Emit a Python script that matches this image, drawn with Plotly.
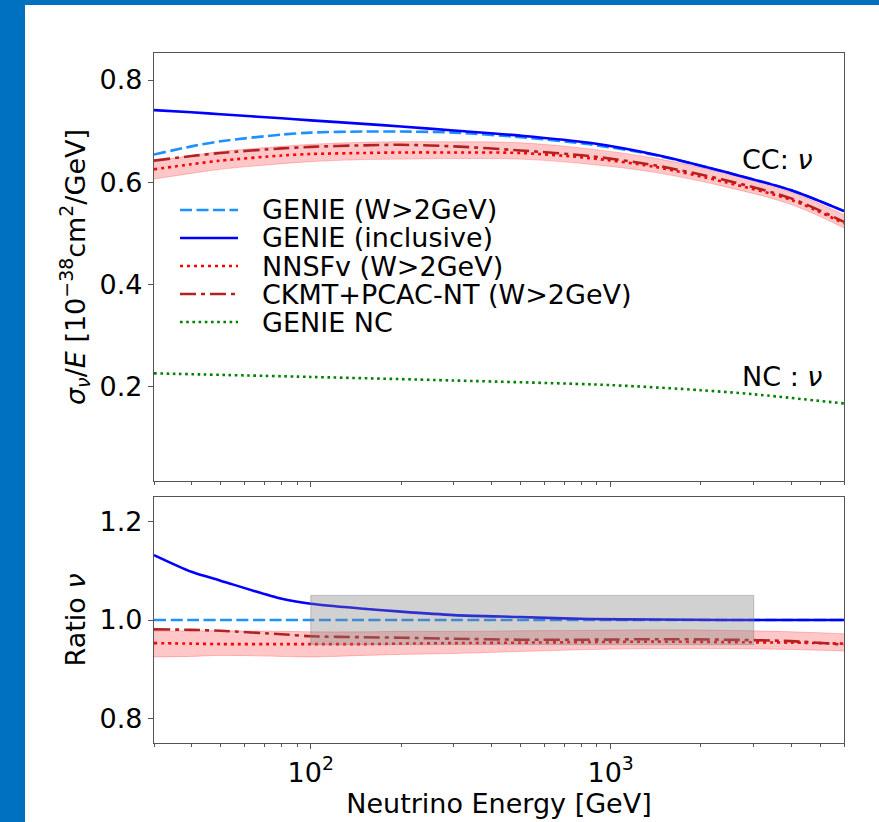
import plotly.graph_objects as go

# ---------------- data ----------------
energy = [30, 40, 50, 80, 100, 150, 200, 300, 500, 850, 1400, 2400, 4000, 6000]

genie_w2 = [0.654, 0.670, 0.680, 0.693, 0.697, 0.699, 0.699, 0.697, 0.688, 0.674, 0.653, 0.620, 0.584, 0.543]
genie_incl = [0.741, 0.737, 0.733, 0.725, 0.721, 0.714, 0.709, 0.701, 0.691, 0.677, 0.654, 0.620, 0.584, 0.543]
nnsf = [0.625, 0.635, 0.642, 0.652, 0.655, 0.657, 0.658, 0.658, 0.657, 0.647, 0.630, 0.600, 0.565, 0.519]
ckmt = [0.642, 0.651, 0.657, 0.666, 0.669, 0.672, 0.673, 0.670, 0.662, 0.651, 0.633, 0.604, 0.568, 0.522]
nnsf_lo = [0.606, 0.617, 0.625, 0.636, 0.640, 0.644, 0.645, 0.646, 0.645, 0.635, 0.619, 0.591, 0.556, 0.510]
nnsf_hi = [0.641, 0.652, 0.660, 0.670, 0.674, 0.678, 0.679, 0.679, 0.677, 0.665, 0.647, 0.617, 0.580, 0.536]

nc_energy = [30, 100, 300, 1000, 2000, 3000, 6000]
genie_nc = [0.225, 0.218, 0.211, 0.202, 0.192, 0.184, 0.166]

ratio_incl = [1.132, 1.098, 1.080, 1.043, 1.033, 1.023, 1.017, 1.010, 1.006, 1.002, 1.001, 1.000, 1.000, 1.000]
ratio_w2 = [1.000, 1.000, 1.000, 1.000, 1.000, 1.000, 1.000, 1.000, 1.000, 1.000, 1.000, 1.000, 1.000, 1.000]
ratio_ckmt = [0.981, 0.980, 0.978, 0.971, 0.967, 0.965, 0.964, 0.962, 0.960, 0.960, 0.961, 0.960, 0.957, 0.950]
ratio_nnsf = [0.953, 0.952, 0.951, 0.951, 0.951, 0.951, 0.952, 0.953, 0.954, 0.955, 0.956, 0.955, 0.954, 0.952]
ratio_lo = [0.925, 0.926, 0.928, 0.926, 0.925, 0.928, 0.930, 0.932, 0.936, 0.940, 0.942, 0.942, 0.940, 0.937]
ratio_hi = [0.977, 0.978, 0.978, 0.977, 0.976, 0.976, 0.977, 0.977, 0.978, 0.979, 0.980, 0.979, 0.976, 0.972]

box_energy = [100, 3000]
box_ratio = [0.95, 1.05]

labels = ["GENIE (W>2GeV)", "GENIE (inclusive)", "NNSFv (W>2GeV)", "CKMT+PCAC-NT (W>2GeV)", "GENIE NC"]

# ---------------- styles ----------------
FONT = "DejaVu Sans"
FS = 27
LW = 2.6
C_W2, C_INCL, C_NNSF, C_CKMT, C_NC = "#1E90FF", "#0000FF", "#FF0000", "#B22222", "#008000"
D_DASH, D_DOT, D_DASHDOT, D_NCDOT = "12px,4.5px", "3px,4px", "16px,5px,4px,5px", "2.6px,3.6px"
BAND_FILL = "rgba(255,0,0,0.22)"
BAND_EDGE = "rgba(255,0,0,0.22)"
AXC = "#555555"

fig = go.Figure()


def band(x, lo, hi, xa, ya):
    fig.add_trace(go.Scatter(x=x, y=lo, mode="lines", line=dict(color=BAND_EDGE, width=1, shape="spline"),
                             xaxis=xa, yaxis=ya, showlegend=False, hoverinfo="skip"))
    fig.add_trace(go.Scatter(x=x, y=hi, mode="lines", line=dict(color=BAND_EDGE, width=1, shape="spline"),
                             fill="tonexty", fillcolor=BAND_FILL,
                             xaxis=xa, yaxis=ya, showlegend=False, hoverinfo="skip"))


def line(x, y, color, dash, xa, ya, width=LW):
    fig.add_trace(go.Scatter(x=x, y=y, mode="lines",
                             line=dict(color=color, width=width, dash=dash, shape="spline", smoothing=0.8),
                             xaxis=xa, yaxis=ya, showlegend=False))


# top panel
band(energy, nnsf_lo, nnsf_hi, "x", "y")
line(energy, genie_w2, C_W2, D_DASH, "x", "y")
line(energy, genie_incl, C_INCL, "solid", "x", "y")
line(energy, nnsf, C_NNSF, D_DOT, "x", "y")
line(energy, ckmt, C_CKMT, D_DASHDOT, "x", "y")
line(nc_energy, genie_nc, C_NC, D_NCDOT, "x", "y")

# bottom panel
band(energy, ratio_lo, ratio_hi, "x2", "y2")
line(energy, ratio_w2, C_W2, D_DASH, "x2", "y2")
line(energy, ratio_incl, C_INCL, "solid", "x2", "y2")
line(energy, ratio_nnsf, C_NNSF, D_DOT, "x2", "y2")
line(energy, ratio_ckmt, C_CKMT, D_DASHDOT, "x2", "y2")

# gray box (drawn above the curves)
fig.add_trace(go.Scatter(
    x=[box_energy[0], box_energy[1], box_energy[1], box_energy[0], box_energy[0]],
    y=[box_ratio[0], box_ratio[0], box_ratio[1], box_ratio[1], box_ratio[0]],
    mode="lines", fill="toself", fillcolor="rgba(128,128,128,0.36)",
    line=dict(color="rgba(128,128,128,0.45)", width=1),
    xaxis="x2", yaxis="y2", showlegend=False, hoverinfo="skip"))

# ---------------- geometry (pixels -> paper) ----------------
W, H = 879, 822
ML, MR, MT, MB = 154, 35, 53, 79
PW, PH = W - ML - MR, H - MT - MB


def px(x):
    return (x - ML) / PW


def py(y):
    return (H - MB - y) / PH


top_dom = [py(481), 1.0]
bot_dom = [0.0, py(497)]

minor_vals = [k * 10 ** d for d in (1, 2, 3) for k in range(2, 10)]
minor_vals = [v for v in minor_vals if 30 <= v <= 6000 and v not in (100, 1000)]

xcommon = dict(type="log", range=[1.47712, 3.77815], showgrid=False, zeroline=False,
               showline=True, mirror=True, linecolor=AXC, linewidth=1.3,
               ticks="outside", ticklen=5, tickwidth=1.2, tickcolor=AXC,
               tickvals=[100, 1000], ticktext=["10<sup>2</sup>", "10<sup>3</sup>"],
               minor=dict(ticks="outside", ticklen=3, tickwidth=1, tickcolor=AXC, tickvals=minor_vals),
               tickfont=dict(family=FONT, size=FS, color="black"))
ycommon = dict(showgrid=False, zeroline=False, showline=True, mirror=True, linecolor=AXC, linewidth=1.3,
               ticks="outside", ticklen=5, tickwidth=1.2, tickcolor=AXC,
               tickfont=dict(family=FONT, size=FS, color="black"))

fig.update_layout(
    width=W, height=H,
    margin=dict(l=ML, r=MR, t=MT, b=MB),
    paper_bgcolor="white", plot_bgcolor="white",
    font=dict(family=FONT, size=FS, color="black"),
    showlegend=False,
    xaxis=dict(**xcommon, domain=[0, 1], anchor="y", showticklabels=False),
    yaxis=dict(**ycommon, domain=top_dom, anchor="x", range=[0.014, 0.853],
               tickvals=[0.2, 0.4, 0.6, 0.8], ticktext=["0.2", "0.4", "0.6", "0.8"],
               title=dict(text="<i>σ</i><sub><i>ν</i></sub>/<i>E</i> [10<sup>−38</sup>cm<sup>2</sup>/GeV]",
                          font=dict(family=FONT, size=FS), standoff=6)),
    xaxis2=dict(**xcommon, domain=[0, 1], anchor="y2",
                title=dict(text="Neutrino Energy [GeV]", font=dict(family=FONT, size=FS), standoff=4)),
    yaxis2=dict(**ycommon, domain=bot_dom, anchor="x2", range=[0.75, 1.25],
                tickvals=[0.8, 1.0, 1.2], ticktext=["0.8", "1.0", "1.2"],
                title=dict(text="Ratio <i>ν</i>", font=dict(family=FONT, size=FS), standoff=6)),
)

# blue frame strips of the slide
BLUE = "#0070C0"
fig.add_shape(type="rect", xref="paper", yref="paper", x0=px(0), x1=px(25), y0=py(H), y1=py(0),
              fillcolor=BLUE, line=dict(width=0), layer="below")
fig.add_shape(type="rect", xref="paper", yref="paper", x0=px(0), x1=px(W), y0=py(5), y1=py(0),
              fillcolor=BLUE, line=dict(width=0), layer="below")

# manual legend
leg_styles = [(C_W2, D_DASH), (C_INCL, "solid"), (C_NNSF, D_DOT), (C_CKMT, D_DASHDOT), (C_NC, D_NCDOT)]
row_y = [210, 238, 266, 294, 322]
for (col, dsh), lab, ry in zip(leg_styles, labels, row_y):
    fig.add_shape(type="line", xref="paper", yref="paper", x0=px(180), x1=px(238), y0=py(ry), y1=py(ry),
                  line=dict(color=col, width=LW, dash=dsh))
    fig.add_annotation(xref="paper", yref="paper", x=px(260), y=py(ry), text=lab, showarrow=False,
                       xanchor="left", yanchor="middle", font=dict(family=FONT, size=FS, color="black"))

fig.add_annotation(xref="paper", yref="paper", x=px(740), y=py(160), text="CC: <i>ν</i>", showarrow=False,
                   xanchor="left", yanchor="middle", font=dict(family=FONT, size=FS, color="black"))
fig.add_annotation(xref="paper", yref="paper", x=px(740), y=py(377), text="NC : <i>ν</i>", showarrow=False,
                   xanchor="left", yanchor="middle", font=dict(family=FONT, size=FS, color="black"))

fig.write_html("out.html")
